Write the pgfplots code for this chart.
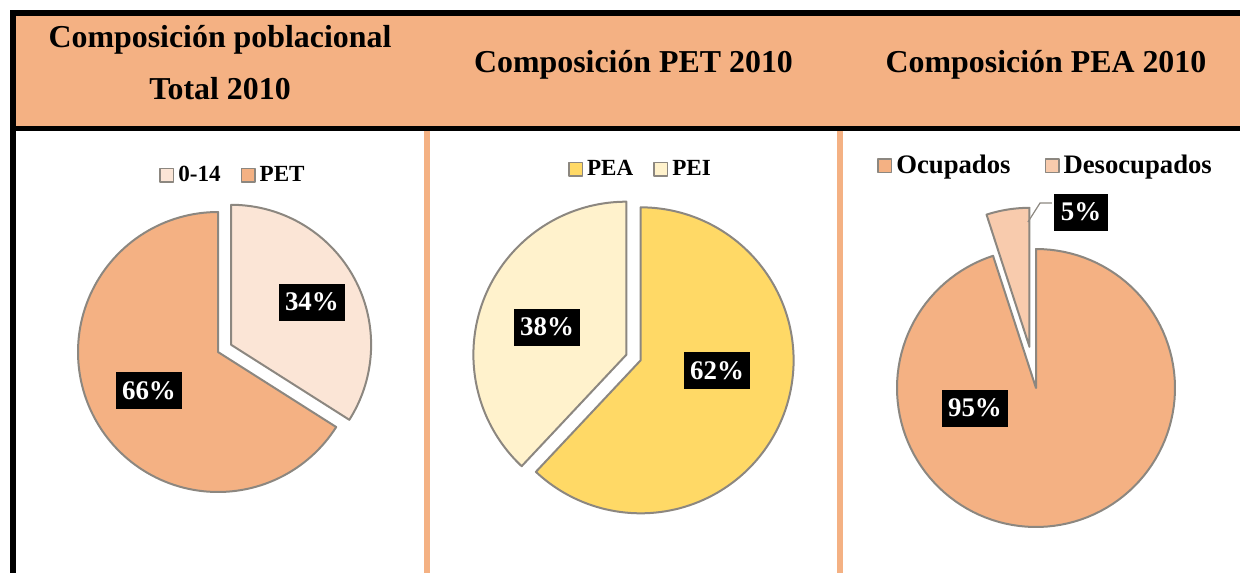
\documentclass[border=0pt]{standalone}
\usepackage{fontspec}
\setmainfont{Liberation Serif}
\usepackage{pgfplots}
\usepackage{pgfplotstable}
\pgfplotsset{compat=1.18}

\definecolor{hdr}{HTML}{F4B183}
\definecolor{pet}{HTML}{F4B183}
\definecolor{kids}{HTML}{FBE5D6}
\definecolor{pea}{HTML}{FFD966}
\definecolor{pei}{HTML}{FFF2CC}
\definecolor{ocu}{HTML}{F4B183}
\definecolor{deso}{HTML}{F8CBAD}
\definecolor{bd}{RGB}{140,135,128}

% data (percent)
\pgfplotstableread{
grupo valor
0-14 34
PET 66
}\tpob
\pgfplotstableread{
grupo valor
PEA 62
PEI 38
}\tpet
\pgfplotstableread{
grupo valor
Ocupados 95
Desocupados 5
}\tpea

\tikzset{lbl/.style={fill=black, text=white, font=\fontsize{13.5}{16}\selectfont\bfseries,
  inner xsep=3.2bp, inner ysep=0pt, minimum height=18.5bp}}

\pgfplotsset{pie/.style={anchor=center, xmin=-1.5, xmax=1.5, ymin=-1.5, ymax=1.5,
  hide axis, clip=false, legend columns=2,
  legend style={draw=none, fill=none, anchor=center, inner sep=0pt,
    /tikz/every even column/.append style={column sep=8bp}},
  legend image code/.code={\draw[##1, line width=0.7bp] (0bp,-3.4bp) rectangle (6.8bp,3.4bp);}}}

% #1 start angle, #2 end angle, #3 explode, #4 fill colour
\newcommand{\slice}[4]{%
  \pgfmathsetmacro\sm{(#1+#2)/2}%
  \pgfmathsetmacro\sx{#3*cos(\sm)}%
  \pgfmathsetmacro\sy{#3*sin(\sm)}%
  \edef\doslice{\noexpand\addplot[fill=#4, draw=bd, line width=1bp, line join=round,
     domain=#1:#2, samples=120, variable=\noexpand\t]
     ({\sx+cos(\noexpand\t)},{\sy+sin(\noexpand\t)}) -- (axis cs:\sx,\sy) -- cycle;}%
  \doslice}

\begin{document}
\begin{tikzpicture}
\useasboundingbox (0,0) rectangle (620bp,-286.5bp);
\begin{scope}[x=0.5bp, y=-0.5bp]
  \fill[hdr] (16,16) rectangle (1240,126);
  \fill[black] (10,10) rectangle (1240,16);
  \fill[black] (10,10) rectangle (16,573);
  \fill[black] (10,126) rectangle (1240,131.5);
  \fill[hdr] (424,131.5) rectangle (430,573);
  \fill[hdr] (837,131.5) rectangle (843,573);
  \begin{scope}[font=\fontsize{16}{19}\selectfont\bfseries]
    \node[anchor=base, inner sep=0] at (220,47) {Composición poblacional};
    \node[anchor=base, inner sep=0] at (220,100) {Total 2010};
    \node[anchor=base, inner sep=0] at (633.5,73) {Composición PET 2010};
    \node[anchor=base, inner sep=0] at (1046,73) {Composición PEA 2010};
  \end{scope}
\end{scope}

% ---------- Pie 1 ----------
\pgfplotstablegetelem{0}{valor}\of\tpob \let\pA\pgfplotsretval
\pgfmathsetmacro\aA{90-3.6*\pA}
\begin{axis}[pie, at={(109bp,-176bp)}, x=70bp, y=70bp,
  legend style={at={(axis cs:0.114,1.264)}, font=\fontsize{11.6}{14}\selectfont\bfseries}]
  \slice{\aA}{90}{0.107}{kids}
  \addlegendentry{0-14}
  \slice{-270}{\aA}{0}{pet}
  \addlegendentry{PET}
  \node[lbl] at (axis cs:0.671,0.357) {34\%};
  \node[lbl] at (axis cs:-0.493,-0.275) {66\%};
\end{axis}

% ---------- Pie 2 ----------
\pgfplotstablegetelem{0}{valor}\of\tpet \let\pB\pgfplotsretval
\pgfmathsetmacro\aB{90-3.6*\pB}
\begin{axis}[pie, at={(316.75bp,-178.75bp)}, x=76.5bp, y=76.5bp,
  legend style={at={(axis cs:0.052,1.232)}, font=\fontsize{11.6}{14}\selectfont\bfseries}]
  \slice{\aB}{90}{0.05}{pea}
  \addlegendentry{PEA}
  \slice{-270}{\aB}{0.05}{pei}
  \addlegendentry{PEI}
  \node[lbl] at (axis cs:-0.565,0.199) {38\%};
  \node[lbl] at (axis cs:0.546,-0.085) {62\%};
\end{axis}

% ---------- Pie 3 ----------
\pgfplotstablegetelem{0}{valor}\of\tpea \let\pC\pgfplotsretval
\pgfmathsetmacro\aC{90-3.6*\pC}
\begin{axis}[pie, at={(518bp,-194bp)}, x=69.5bp, y=69.5bp,
  legend style={at={(axis cs:0.076,1.60)}, font=\fontsize{13.4}{16}\selectfont\bfseries,
    /tikz/every even column/.append style={column sep=15bp}}]
  \slice{\aC}{90}{0}{ocu}
  \addlegendentry{Ocupados}
  \slice{-270}{\aC}{0.30}{deso}
  \addlegendentry{Desocupados}
  \addplot[bd, line width=0.6bp] coordinates {(-0.058,1.194) (0.029,1.331) (0.115,1.331)};
  \node[lbl] at (axis cs:-0.439,-0.144) {95\%};
  \node[lbl] at (axis cs:0.324,1.266) {5\%};
\end{axis}
\end{tikzpicture}
\end{document}
